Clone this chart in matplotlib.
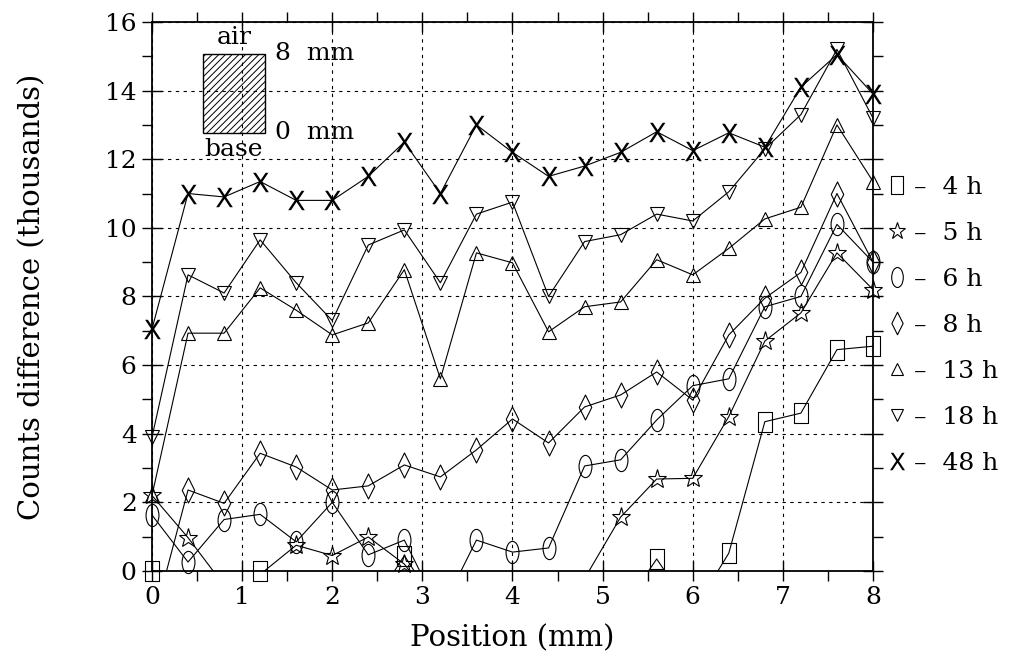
import numpy as np
import matplotlib.pyplot as plt
from matplotlib.path import Path
from matplotlib.patches import Rectangle
from matplotlib.lines import Line2D
from matplotlib.ticker import MultipleLocator

plt.rcParams['font.family'] = 'DejaVu Serif'
plt.rcParams['hatch.linewidth'] = 0.7

# sample positions (mm)
position = np.array([0.0, 0.4, 0.8, 1.2, 1.6, 2.0, 2.4, 2.8, 3.2, 3.6, 4.0,
                     4.4, 4.8, 5.2, 5.6, 6.0, 6.4, 6.8, 7.2, 7.6, 8.0])

# counts difference (thousands); negative values fall below the plotted range
h4 = [0.0, -1.2, -3.0, 0.0, -1.2, -3.0, -1.2, 0.45, -1.2, -3.0, -3.0,
      -3.0, -3.0, -1.2, 0.35, -1.2, 0.52, 4.35, 4.6, 6.45, 6.55]
h5 = [2.2, 0.97, -0.42, -0.1, 0.75, 0.45, 0.99, 0.2, -1.2, -1.5, -1.5,
      -1.5, -0.22, 1.57, 2.68, 2.7, 4.5, 6.7, 7.52, 9.27, 8.2]
h6 = [1.63, 0.26, 1.5, 1.65, 0.85, 2.0, 0.47, 0.9, -1.2, 0.9, 0.55,
      0.67, 3.06, 3.24, 4.4, 5.4, 5.6, 7.7, 8.0, 10.1, 9.0]
h8 = [-1.6, 2.36, 1.97, 3.43, 3.03, 2.36, 2.48, 3.09, 2.74, 3.53, 4.43,
      3.73, 4.78, 5.13, 5.8, 4.98, 6.88, 7.95, 8.7, 11.0, 9.0]
h13 = [2.2, 6.93, 6.93, 8.25, 7.6, 6.88, 7.23, 8.78, 5.6, 9.27, 8.98,
       6.97, 7.7, 7.84, 9.07, 8.63, 9.4, 10.26, 10.6, 13.0, 11.35]
h18 = [3.9, 8.63, 8.1, 9.65, 8.4, 7.3, 9.5, 9.94, 8.4, 10.4, 10.75,
       8.0, 9.6, 9.8, 10.4, 10.2, 11.05, 12.3, 13.3, 15.2, 13.2]
h48 = [7.05, 11.0, 10.9, 11.35, 10.8, 10.8, 11.5, 12.5, 11.0, 13.0, 12.2,
       11.5, 11.8, 12.2, 12.8, 12.25, 12.77, 12.35, 14.1, 15.05, 13.9]

labels = ['4 h', '5 h', '6 h', '8 h', '13 h', '18 h', '48 h']
series = [h4, h5, h6, h8, h13, h18, h48]

# marker shapes
circ = Path.unit_circle()
ellipse = Path(circ.vertices * [0.58, 1.0], circ.codes)
diamond = Path([(0, 1), (0.5, 0), (0, -1), (-0.5, 0), (0, 1)],
               [Path.MOVETO, Path.LINETO, Path.LINETO, Path.LINETO, Path.CLOSEPOLY])
rect = Path([(-0.67, -1), (0.67, -1), (0.67, 1), (-0.67, 1), (-0.67, -1)],
            [Path.MOVETO, Path.LINETO, Path.LINETO, Path.LINETO, Path.CLOSEPOLY])
markers = [(rect, 14), ('*', 14), (ellipse, 16), (diamond, 18),
           ('^', 10), ('v', 10), (r'$\mathrm{X}$', 14)]

fig = plt.figure(figsize=(10.29, 6.61), dpi=100)
ax = fig.add_axes([0.1477, 0.1362, 0.7007, 0.8306])

for ys, (m, ms) in zip(series, markers):
    ys = np.array(ys)
    ax.plot(position, ys, color='k', lw=0.8)
    ok = ys >= 0
    fc = 'k' if isinstance(m, str) and m.startswith('$') else 'none'
    ax.plot(position[ok], ys[ok], ls='none', marker=m, ms=ms, mfc=fc,
            mec='k', mew=0.8 if fc == 'none' else 0, clip_on=False, zorder=3)

ax.set_xlim(0, 8)
ax.set_ylim(0, 16)
ax.xaxis.set_major_locator(MultipleLocator(1))
ax.xaxis.set_minor_locator(MultipleLocator(0.5))
ax.yaxis.set_major_locator(MultipleLocator(2))
ax.yaxis.set_minor_locator(MultipleLocator(1))
ax.grid(True, which='major', color='k', ls=(0, (3, 4)), lw=0.8)
ax.tick_params(which='major', direction='inout', length=14, width=1,
               top=True, right=True, labelsize=18, pad=4)
ax.tick_params(which='minor', direction='out', length=7, width=1,
               top=True, right=True)
for s in ax.spines.values():
    s.set_linewidth(1.3)

ax.set_xlabel('Position (mm)', fontsize=21, labelpad=11)
ax.set_ylabel('Counts difference (thousands)', fontsize=21, labelpad=42)

# sample sketch inset
ax.add_patch(Rectangle((0.0707, 0.798), 0.086, 0.144, transform=ax.transAxes,
                       fill=False, hatch='/////', ec='k', lw=1, zorder=4))
ax.text(0.1137, 0.950, 'air', transform=ax.transAxes, fontsize=18,
        ha='center', va='bottom')
ax.text(0.1137, 0.788, 'base', transform=ax.transAxes, fontsize=18,
        ha='center', va='top')
ax.text(0.17, 0.942, '8  mm', transform=ax.transAxes, fontsize=18,
        ha='left', va='center')
ax.text(0.17, 0.798, '0  mm', transform=ax.transAxes, fontsize=18,
        ha='left', va='center')

handles = []
for m, ms in markers:
    fc = 'k' if isinstance(m, str) and m.startswith('$') else 'none'
    handles.append(Line2D([], [], ls='none', marker=m, ms=ms * 0.9, mfc=fc,
                          mec='k', mew=0.8 if fc == 'none' else 0))
ax.legend(handles, ['–  ' + lab for lab in labels], loc='upper left',
          bbox_to_anchor=(1.005, 0.738), frameon=False, fontsize=18,
          handlelength=0.8, handletextpad=0.3, labelspacing=0.92,
          borderaxespad=0)

fig.savefig('out.png', dpi=100)
